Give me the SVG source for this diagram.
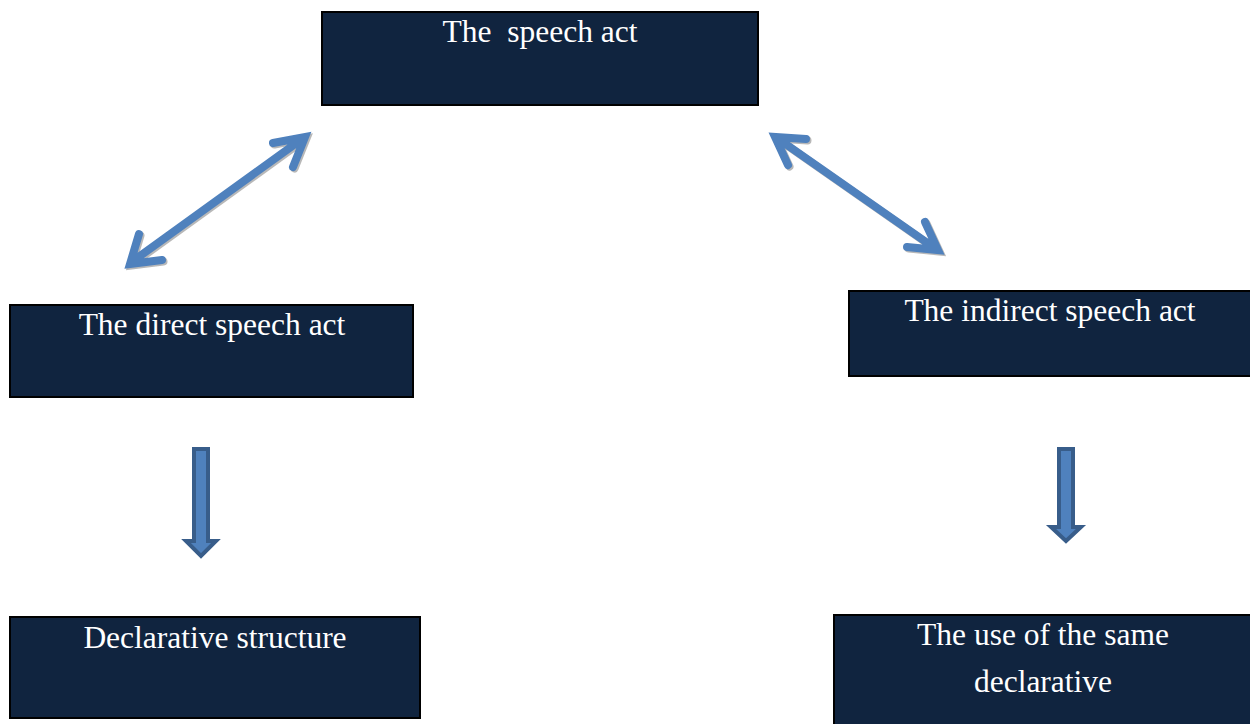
<svg xmlns="http://www.w3.org/2000/svg" width="1250" height="724" viewBox="0 0 1250 724">
  <defs>
    <style>
      .box { fill: #10243f; stroke: #000; stroke-width: 2; }
      .label { font-family: "Liberation Serif", "Times New Roman", serif; font-size: 31.5px; fill: #ffffff; text-anchor: middle; }
      .dbl { fill: none; stroke: #4f81bd; stroke-width: 8; stroke-linecap: round; stroke-linejoin: miter; }
      .dbl-shadow { fill: none; stroke: #9a9a9a; stroke-width: 8; stroke-linecap: round; stroke-linejoin: miter; opacity: 0.7; }
      .down { fill: #4f81bd; stroke: #385d8a; stroke-width: 4; stroke-linejoin: miter; }
    </style>
  </defs>
  <rect width="1250" height="724" fill="#ffffff"/>

  <g id="connectors">
    <!-- speech act <-> direct speech act -->
    <g transform="translate(1.5,1.5)">
      <path class="dbl-shadow" d="M133,261 L302,139 M273,143 L305,137 L293,167 M139,234 L130,264 L162,260"/>
    </g>
    <path class="dbl" d="M133,261 L302,139 M273,143 L305,137 L293,167 M139,234 L130,264 L162,260"/>

    <!-- speech act <-> indirect speech act -->
    <g transform="translate(1.5,1.5)">
      <path class="dbl-shadow" d="M777,138 L936,249 M806,139 L775,137 L788,165 M925,222 L938,250 L907,247"/>
    </g>
    <path class="dbl" d="M777,138 L936,249 M806,139 L775,137 L788,165 M925,222 L938,250 L907,247"/>

    <!-- direct speech act -> declarative structure -->
    <path class="down" d="M194,449 L208,449 L208,541 L216,541 L201,556 L186,541 L194,541 Z"/>
    <!-- indirect speech act -> the use of the same declarative -->
    <path class="down" d="M1059,449 L1073,449 L1073,527 L1081,527 L1066,541 L1051,527 L1059,527 Z"/>
  </g>

  <g id="node-speech-act">
    <rect class="box" x="322" y="12" width="436" height="93"/>
    <text class="label" x="540" y="42" xml:space="preserve">The  speech act</text>
  </g>

  <g id="node-direct">
    <rect class="box" x="10" y="305" width="403" height="92"/>
    <text class="label" x="212" y="335">The direct speech act</text>
  </g>

  <g id="node-indirect">
    <rect class="box" x="849" y="291" width="402" height="85"/>
    <text class="label" x="1050" y="321">The indirect speech act</text>
  </g>

  <g id="node-declarative-structure">
    <rect class="box" x="10" y="617" width="410" height="101"/>
    <text class="label" x="215" y="648">Declarative structure</text>
  </g>

  <g id="node-same-declarative">
    <rect class="box" x="834" y="615" width="418" height="112"/>
    <text class="label" x="1043" y="645">The use of the same</text>
    <text class="label" x="1043" y="692">declarative</text>
  </g>
</svg>
